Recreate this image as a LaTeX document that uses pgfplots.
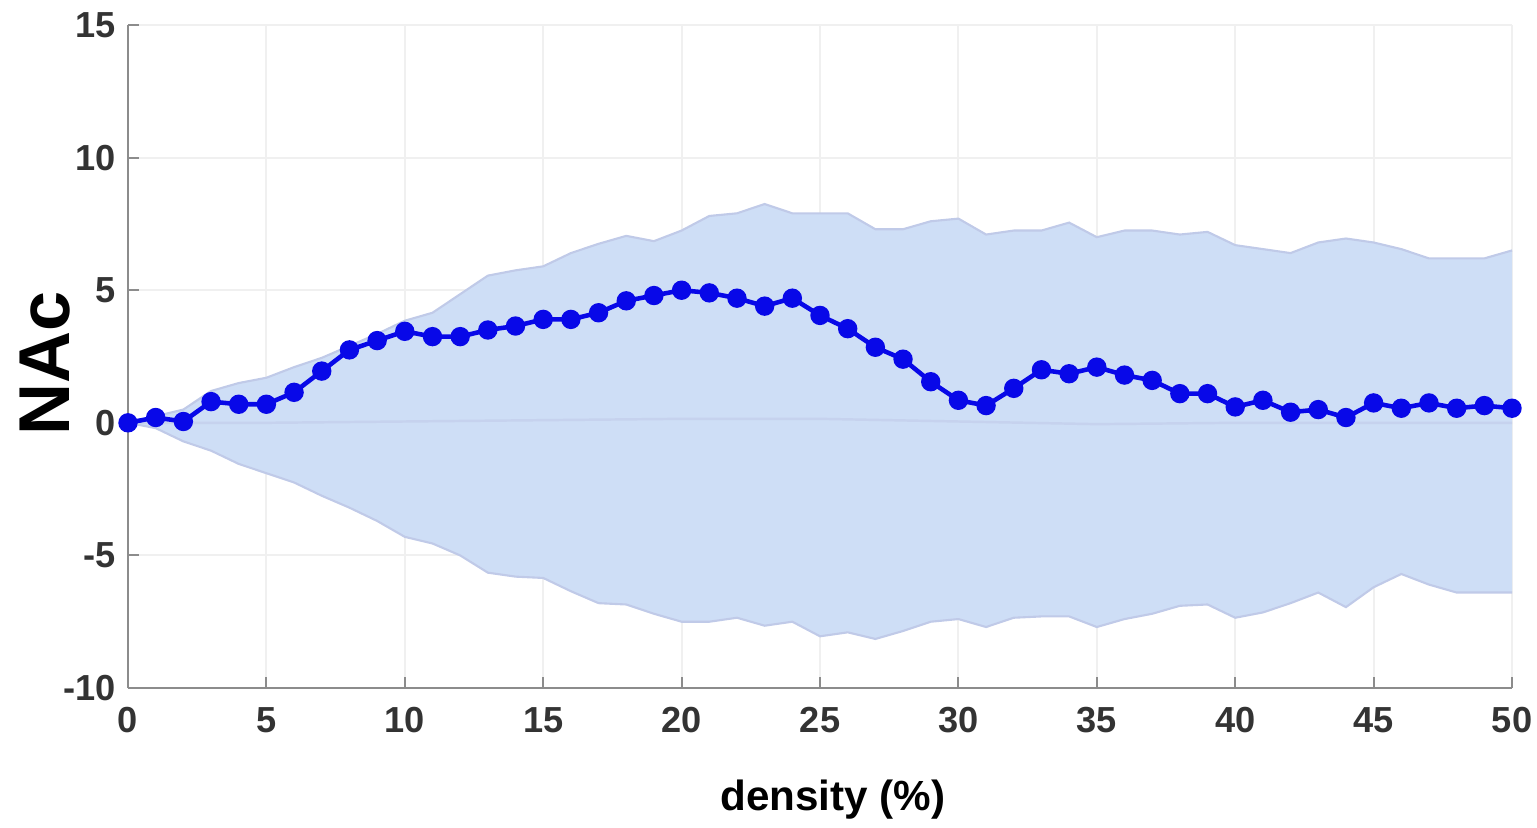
\documentclass[border=0pt]{standalone}
\usepackage{fontspec}
\setmainfont{Liberation Sans}
\usepackage{pgfplots}
\pgfplotsset{compat=1.18}
\usepgfplotslibrary{fillbetween}
\definecolor{bandfill}{RGB}{206,222,246}
\definecolor{bandedge}{RGB}{192,202,232}
\definecolor{mainblue}{RGB}{8,8,232}
\definecolor{gridc}{RGB}{240,240,240}
\definecolor{axc}{RGB}{140,140,140}
\begin{document}
\begin{tikzpicture}
\begin{axis}[
  scale only axis,
  width=13.84cm, height=6.63cm,
  xmin=0, xmax=50, ymin=-10, ymax=15,
  xtick={0,5,...,50}, ytick={-10,-5,0,5,10,15},
  axis x line*=bottom, axis y line*=left,
  axis line style={axc, line width=0.8pt, -},
  tick style={axc, line width=0.6pt},
  tick align=inside,
  major tick length=3pt,
  grid=major,
  grid style={gridc, line width=0.6pt},
  /pgf/number format/assume math mode=true,
  tick label style={font=\bfseries\fontsize{10.3}{12}\selectfont, text=black!80},
  xticklabel style={yshift=-2pt},
  xlabel={density (\%)},
  ylabel={NAc},
  xlabel style={font=\bfseries\fontsize{12}{14}\selectfont, at={(axis description cs:0.5094,-0.169)}, anchor=center},
  ylabel style={font=\bfseries\fontsize{20.5}{24}\selectfont, at={(axis description cs:-0.0597,0.49)}, anchor=center, rotate=0},
  clip=false,
]
\addplot[name path=upper, bandedge, line width=0.6pt] coordinates {
(0,0) (1,0.25) (2,0.5) (3,1.2) (4,1.5) (5,1.7) (6,2.1) (7,2.45) (8,2.9) (9,3.35)
(10,3.85) (11,4.15) (12,4.85) (13,5.55) (14,5.75) (15,5.9) (16,6.4) (17,6.75) (18,7.05) (19,6.85)
(20,7.25) (21,7.8) (22,7.9) (23,8.25) (24,7.9) (25,7.9) (26,7.9) (27,7.3) (28,7.3) (29,7.6)
(30,7.7) (31,7.1) (32,7.25) (33,7.25) (34,7.55) (35,7.0) (36,7.25) (37,7.25) (38,7.1) (39,7.2)
(40,6.7) (41,6.55) (42,6.4) (43,6.8) (44,6.95) (45,6.8) (46,6.55) (47,6.2) (48,6.2) (49,6.2) (50,6.5)
};
\addplot[name path=lower, bandedge, line width=0.6pt] coordinates {
(0,0) (1,-0.2) (2,-0.7) (3,-1.05) (4,-1.55) (5,-1.9) (6,-2.25) (7,-2.75) (8,-3.2) (9,-3.7)
(10,-4.3) (11,-4.55) (12,-5.0) (13,-5.65) (14,-5.8) (15,-5.85) (16,-6.35) (17,-6.8) (18,-6.85) (19,-7.2)
(20,-7.5) (21,-7.5) (22,-7.35) (23,-7.65) (24,-7.5) (25,-8.05) (26,-7.9) (27,-8.15) (28,-7.85) (29,-7.5)
(30,-7.4) (31,-7.7) (32,-7.35) (33,-7.3) (34,-7.3) (35,-7.7) (36,-7.4) (37,-7.2) (38,-6.9) (39,-6.85)
(40,-7.35) (41,-7.15) (42,-6.8) (43,-6.4) (44,-6.95) (45,-6.2) (46,-5.7) (47,-6.1) (48,-6.4) (49,-6.4) (50,-6.4)
};
\addplot[bandfill] fill between[of=upper and lower];
\addplot[bandedge!60!bandfill, line width=0.7pt] coordinates {
(0,0) (5,0.0) (10,0.05) (15,0.1) (20,0.15) (25,0.15) (30,0.05) (35,-0.05) (40,0.0) (45,0.0) (50,0.0)
};
\addplot[mainblue, line width=1.3pt, mark=*, mark size=2.1pt, mark options={fill=mainblue, draw=mainblue}] coordinates {
(0,0) (1,0.2) (2,0.05) (3,0.8) (4,0.7) (5,0.7) (6,1.15) (7,1.95) (8,2.75) (9,3.1)
(10,3.45) (11,3.25) (12,3.25) (13,3.5) (14,3.65) (15,3.9) (16,3.9) (17,4.15) (18,4.6) (19,4.8)
(20,5.0) (21,4.9) (22,4.7) (23,4.4) (24,4.7) (25,4.05) (26,3.55) (27,2.85) (28,2.4) (29,1.55)
(30,0.85) (31,0.65) (32,1.3) (33,2.0) (34,1.85) (35,2.1) (36,1.8) (37,1.6) (38,1.1) (39,1.1)
(40,0.6) (41,0.85) (42,0.4) (43,0.5) (44,0.2) (45,0.75) (46,0.55) (47,0.75) (48,0.55) (49,0.65) (50,0.55)
};
\end{axis}
\pgfresetboundingbox
\path[use as bounding box] (-1.28cm,-1.39cm) rectangle (14.09cm,6.88cm);
\end{tikzpicture}
\end{document}
